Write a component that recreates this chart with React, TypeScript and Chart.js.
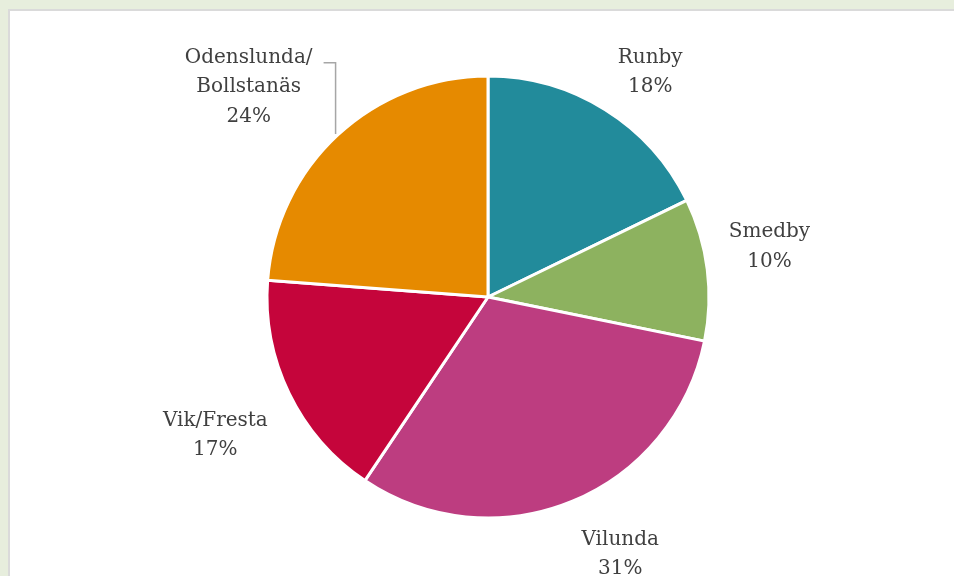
import React, { useEffect, useRef } from "react";
import { Chart, registerables } from "chart.js";

Chart.register(...registerables);

const categories = ["Runby", "Smedby", "Vilunda", "Vik/Fresta", "Odenslunda/Bollstanäs"];
const labelLines = [["Runby"], ["Smedby"], ["Vilunda"], ["Vik/Fresta"], ["Odenslunda/", "Bollstanäs"]];
const shares = [17.8, 10.4, 31.2, 16.8, 23.8];
const colors = ["#228B9B", "#8DB25F", "#BD3D80", "#C5053B", "#E68A00"];

// label placement: extra distance beyond radius and angle tweak (deg)
const labelExt = [52, 64, 73, 87, 94];
const labelTurn = [4.4, -1.9, -4.4, -1.8, -6.6];
const leaderOn = [false, false, false, false, true];

const labelPlugin = {
  id: "pieLabels",
  afterDraw(chart: any) {
    const ctx = chart.ctx;
    const meta = chart.getDatasetMeta(0);
    const total = shares.reduce((a, b) => a + b, 0);
    ctx.save();
    ctx.font = "20px 'DejaVu Serif'";
    ctx.fillStyle = "#404040";
    ctx.textAlign = "center";
    ctx.textBaseline = "alphabetic";
    meta.data.forEach((arc: any, i: number) => {
      const { x, y, startAngle, endAngle, outerRadius } = arc.getProps(
        ["x", "y", "startAngle", "endAngle", "outerRadius"],
        true
      );
      const a = (startAngle + endAngle) / 2 + (labelTurn[i] * Math.PI) / 180;
      const d = outerRadius + labelExt[i];
      const ax = x + Math.cos(a) * d;
      const ay = y + Math.sin(a) * d;
      const lines = [...labelLines[i], Math.round((shares[i] / total) * 100) + "%"];
      const n = lines.length;
      lines.forEach((t, k) => {
        const by = ay + (k - (n - 1) / 2) * 29.5;
        ctx.fillText(t, ax, by);
      });
      if (leaderOn[i]) {
        const ly = ay + (0 - (n - 1) / 2) * 29.5;
        const x0 = ax + ctx.measureText(lines[0]).width / 2 + 11;
        const x1 = x0 + 12;
        const dx = x1 - x;
        const yEnd = y - Math.sqrt(Math.max(outerRadius * outerRadius - dx * dx, 0)) - 3;
        ctx.strokeStyle = "#A6A6A6";
        ctx.lineWidth = 1.5;
        ctx.beginPath();
        ctx.moveTo(x0, ly);
        ctx.lineTo(x1, ly);
        ctx.lineTo(x1, yEnd);
        ctx.stroke();
      }
    });
    ctx.restore();
  },
};

export default function App() {
  const ref = useRef<HTMLCanvasElement>(null);
  useEffect(() => {
    if (!ref.current) return;
    const chart = new Chart(ref.current, {
      type: "pie",
      data: {
        labels: categories,
        datasets: [
          {
            data: shares,
            backgroundColor: colors,
            borderColor: "#FFFFFF",
            borderWidth: 3,
            radius: 221,
          } as any,
        ],
      },
      options: {
        responsive: false,
        animation: false,
        layout: { padding: { left: 22, right: 0, top: 18, bottom: 0 } },
        plugins: {
          legend: { display: false },
          tooltip: { enabled: false },
        },
      },
      plugins: [labelPlugin],
    });
    return () => chart.destroy();
  }, []);

  return (
    <div
      style={{
        position: "fixed",
        left: 0,
        top: 0,
        width: 954,
        height: 576,
        background: "#E7EEDD",
        overflow: "hidden",
      }}
    >
      <div
        style={{
          position: "absolute",
          left: 8,
          top: 9,
          right: -2,
          bottom: -2,
          background: "#FFFFFF",
          borderLeft: "2px solid #DADADA",
          borderTop: "2px solid #DADADA",
        }}
      />
      <canvas
        ref={ref}
        width={954}
        height={576}
        style={{ position: "absolute", left: 0, top: 0, width: 954, height: 576 }}
      />
    </div>
  );
}
